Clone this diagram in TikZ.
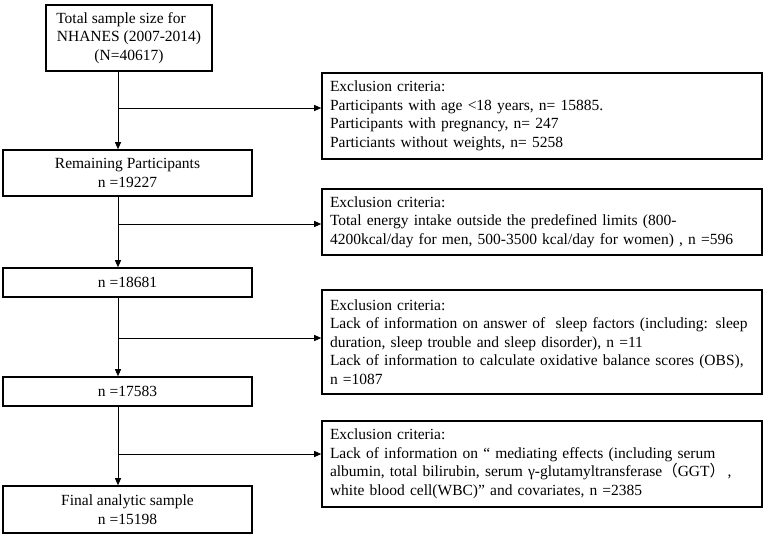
\documentclass[tikz,border=0pt]{standalone}
\usepackage{fontspec}
\setmainfont{Liberation Serif}
\newfontfamily\cjk{Noto Sans CJK SC}
\usetikzlibrary{arrows.meta}
\tikzset{
	mainbox/.style={draw, line width=1.6pt, minimum width=249pt, inner sep=0pt, align=center, font=\fontsize{15.5}{18.5}\selectfont},
	exclbox/.style={draw, line width=1.6pt, minimum width=440pt, text width=424pt, inner xsep=8pt, inner ysep=0pt, align=left, font=\fontsize{15.5}{18.5}\selectfont},
	flow/.style={line width=0.9pt, -{Triangle[length=7pt,width=6pt]}}
}

\begin{document}
\begin{tikzpicture}[x=1pt,y=-1pt]
			%%%%% START %%%%%
			\useasboundingbox[fill=white] (0,0) rectangle (767,538);
			
			\node[mainbox, minimum width=166pt, minimum height=66pt] (total) at (129,38) {Total sample size for\hspace*{16pt}\\NHANES (2007-2014)\\(N=40617)};
			\node[mainbox, minimum height=46pt] (remain) at (127.5,173) {Remaining Participants\\n =19227};
			\node[mainbox, minimum height=29pt] (energy) at (127.5,282.5) {n =18681};
			\node[mainbox, minimum height=29pt] (sleep) at (127.5,391.5) {n =17583};
			\node[mainbox, minimum height=47pt] (final) at (127.5,509.5) {Final analytic sample\\n =15198};
			
			\node[exclbox, minimum height=86pt] (exage) at (542,116) {Exclusion criteria:\\Participants with age <18 years, n= 15885.\\Participants with pregnancy, n= 247\\Particiants without weights, n= 5258};
			\node[exclbox, minimum height=66pt] (exenergy) at (542,222) {Exclusion criteria:\\Total energy intake outside the predefined limits (800-\\4200kcal/day for men, 500-3500 kcal/day for women) , n =596};
			\node[exclbox, minimum height=104pt] (exsleep) at (542,342) {Exclusion criteria:\\Lack of information on answer of \ sleep factors (including: sleep\\duration, sleep trouble and sleep disorder), n =11\\Lack of information to calculate oxidative balance scores (OBS),\\n =1087};
			\node[exclbox, minimum height=86pt] (exmed) at (542,464) {Exclusion criteria:\\Lack of information on “ mediating effects (including serum\\albumin, total bilirubin, serum γ-glutamyltransferase{\cjk（}GGT{\cjk）}\,,\\white blood cell(WBC)” and covariates, n =2385};
			
			\coordinate (j1) at (118,108);
			\coordinate (j2) at (118,224);
			\coordinate (j3) at (118,338);
			\coordinate (j4) at (118,454);
			
			\draw[flow] (total.south -| j1) -- (remain.north -| j1);
			\draw[flow] (remain.south -| j2) -- (energy.north -| j2);
			\draw[flow] (energy.south -| j3) -- (sleep.north -| j3);
			\draw[flow] (sleep.south -| j4) -- (final.north -| j4);
			
			\draw[flow] (j1) -- (j1 -| exage.west);
			\draw[flow] (j2) -- (j2 -| exenergy.west);
			\draw[flow] (j3) -- (j3 -| exsleep.west);
			\draw[flow] (j4) -- (j4 -| exmed.west);
			
			%%%%% END %%%%%
\end{tikzpicture}
\end{document}
